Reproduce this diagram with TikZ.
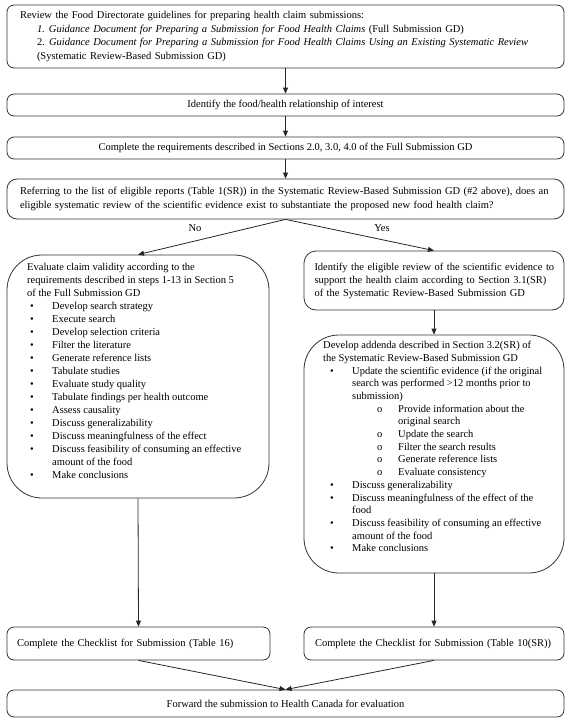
\documentclass[tikz,border=0pt]{standalone}
\usepackage{fontspec}
\setmainfont{Liberation Serif}
\usetikzlibrary{arrows.meta}
\newcommand{\bul}{\makebox[22pt][l]{\textbullet}}
\begin{document}
\begin{tikzpicture}[x=1pt,y=-1pt,
  box/.style={draw=black!80, line width=0.8pt, rounded corners=7pt, inner sep=0pt},
  arr/.style={draw=black!85, line width=0.8pt, -{Triangle[length=6pt,width=5pt]}},
  lab/.style={inner sep=0pt, font=\fontsize{10.5}{12.7}\selectfont},
  txt/.style={inner sep=0pt, align=left, font=\fontsize{10.5}{12.7}\selectfont}]
\useasboundingbox (0,0) rectangle (571,726);

\node[box, minimum width=557pt, minimum height=63pt, text width=531pt, align=left,
      font=\fontsize{10.5}{13.8}\selectfont] (b1) at (285.5,36.5)
  {Review the Food Directorate guidelines for preparing health claim submissions:\\
   \hspace*{17pt}\makebox[12pt][l]{\textit{1.}}\textit{Guidance Document for Preparing a Submission for Food Health Claims} (Full Submission GD)\\
   \hspace*{17pt}\makebox[12pt][l]{2.}\textit{Guidance Document for Preparing a Submission for Food Health Claims Using an Existing Systematic Review}\\
   \hspace*{17pt}(Systematic Review-Based Submission GD)};

\node[box, minimum width=557pt, minimum height=22pt, font=\fontsize{10.5}{12.7}\selectfont] (b2) at (285.5,105)
  {Identify the food/health relationship of interest};

\node[box, minimum width=557pt, minimum height=22pt, font=\fontsize{10.5}{12.7}\selectfont] (b3) at (285.5,148)
  {Complete the requirements described in Sections 2.0, 3.0, 4.0 of the Full Submission GD};

\node[box, rounded corners=10pt, minimum width=557pt, minimum height=40pt, text width=531pt, align=left,
      font=\fontsize{10.5}{13.8}\selectfont] (b4) at (285.5,199)
  {\mbox{Referring to the list of eligible reports (Table 1(SR)) in the Systematic Review-Based Submission GD (\#2 above), does an}\\
   eligible systematic review of the scientific evidence exist to substantiate the proposed new food health claim?};

\node[box, rounded corners=35pt, minimum width=262pt, minimum height=243pt] (L) at (138,376.5) {};
\node[txt, anchor=north west, font=\fontsize{10.5}{13}\selectfont] (Lt) at (27,263)
  {Evaluate claim validity according to the\\
   requirements described in steps 1-13 in Section 5\\
   of the Full Submission GD\\
   \hspace*{3pt}\bul Develop search strategy\\
   \hspace*{3pt}\bul Execute search\\
   \hspace*{3pt}\bul Develop selection criteria\\
   \hspace*{3pt}\bul Filter the literature\\
   \hspace*{3pt}\bul Generate reference lists\\
   \hspace*{3pt}\bul Tabulate studies\\
   \hspace*{3pt}\bul Evaluate study quality\\
   \hspace*{3pt}\bul Tabulate findings per health outcome\\
   \hspace*{3pt}\bul Assess causality\\
   \hspace*{3pt}\bul Discuss generalizability\\
   \hspace*{3pt}\bul Discuss meaningfulness of the effect\\
   \hspace*{3pt}\bul Discuss feasibility of consuming an effective\\
   \hspace*{25pt}amount of the food\\
   \hspace*{3pt}\bul Make conclusions};

\node[box, rounded corners=12pt, minimum width=260pt, minimum height=59pt, text width=239pt, align=left,
      font=\fontsize{10.5}{13}\selectfont] (RA) at (434,280.5)
  {\mbox{Identify the eligible review of the scientific evidence to}\\
   \mbox{support the health claim according to Section 3.1(SR)}\\
   of the Systematic Review-Based Submission GD};

\node[box, rounded corners=35pt, minimum width=260pt, minimum height=238pt] (RB) at (434,454) {};
\node[txt, anchor=north west] (RBt) at (323,341)
  {Develop addenda described in Section 3.2(SR) of\\
   the Systematic Review-Based Submission GD\\
   \hspace*{7pt}\bul Update the scientific evidence (if the original\\
   \hspace*{29pt}search was performed >12 months prior to\\
   \hspace*{29pt}submission)\\
   \hspace*{54pt}\makebox[21pt][l]{o}Provide information about the\\
   \hspace*{75pt}original search\\
   \hspace*{54pt}\makebox[21pt][l]{o}Update the search\\
   \hspace*{54pt}\makebox[21pt][l]{o}Filter the search results\\
   \hspace*{54pt}\makebox[21pt][l]{o}Generate reference lists\\
   \hspace*{54pt}\makebox[21pt][l]{o}Evaluate consistency\\
   \hspace*{7pt}\bul Discuss generalizability\\
   \hspace*{7pt}\bul Discuss meaningfulness of the effect of the\\
   \hspace*{29pt}food\\
   \hspace*{7pt}\bul Discuss feasibility of consuming an effective\\
   \hspace*{29pt}amount of the food\\
   \hspace*{7pt}\bul Make conclusions};

\node[box, minimum width=263pt, minimum height=33pt, text width=243pt, align=left,
      font=\fontsize{10.5}{12.7}\selectfont] (T16) at (138.5,643.5)
  {\mbox{Complete the Checklist for Submission (Table 16)}};
\node[box, minimum width=260pt, minimum height=33pt, text width=238pt, align=left,
      font=\fontsize{10.5}{12.7}\selectfont] (T10) at (434,643.5)
  {\mbox{Complete the Checklist for Submission (Table 10(SR))}};

\node[box, minimum width=557pt, minimum height=27pt, font=\fontsize{10.5}{12.7}\selectfont] (F) at (285.5,703.5)
  {Forward the submission to Health Canada for evaluation};

\draw[arr] (b1.south) -- (b2.north);
\draw[arr] (b2.south) -- (b3.north);
\draw[arr] (b3.south) -- (b4.north);
\draw[arr] (b4.south) -- (L.north);
\draw[arr] (b4.south) -- (RA.north);
\node[lab] (no) at (195,228) {No};
\node[lab] (yes) at (382,228) {Yes};
\draw[arr] (RA.south) -- (RB.north);
\draw[arr] (L.south) -- (T16.north);
\draw[arr] (RB.south) -- (T10.north);
\draw[arr] (T16.south) -- (F.north);
\draw[arr] (T10.south) -- (F.north);
\end{tikzpicture}
\end{document}
